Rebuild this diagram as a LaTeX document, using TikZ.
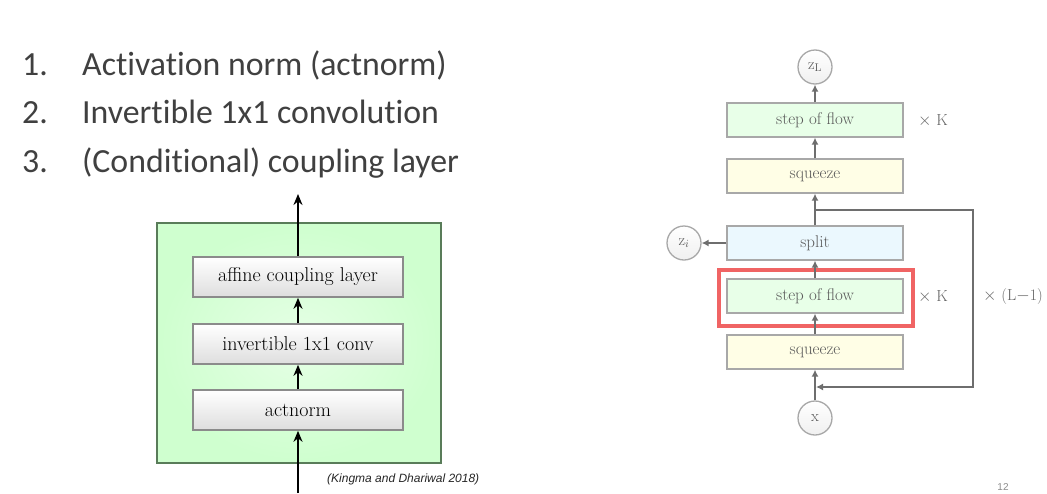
\documentclass[tikz,border=0pt]{standalone}
\usepackage{fontspec}
\newfontfamily\calib[Ligatures=NoCommon]{Carlito}
\newfontfamily\arialf{Liberation Sans}
\usetikzlibrary{arrows.meta}
\definecolor{listgray}{HTML}{404040}
\definecolor{flowgray}{HTML}{6E6E6E}
\definecolor{boxedge}{HTML}{A8A8A8}
\definecolor{redbox}{HTML}{F06464}
\tikzset{
  listtxt/.style={font=\calib\fontsize{33.8}{38}\selectfont, text=listgray, anchor=base west, inner sep=0},
  layerbox/.style={draw=flowgray!80, line width=1.6pt, minimum width=210pt, minimum height=40pt, top color=white, bottom color=black!13, font=\fontsize{20}{24}\selectfont, inner sep=0},
  blackarr/.style={-{Stealth[length=11pt,width=9pt]}, line width=2.4pt, black},
  flowbox/.style={draw=boxedge, line width=1.3pt, minimum width=176pt, minimum height=34pt, font=\fontsize{17}{20}\selectfont, text=black!65, inner sep=0},
  flowcirc/.style={circle, draw=boxedge, line width=1.3pt, minimum size=34pt, inner sep=0, top color=white, bottom color=black!6, font=\fontsize{16}{18}\selectfont, text=black!65},
  grayarr/.style={-{Latex[length=7pt,width=7pt]}, line width=2pt, flowgray},
  multtxt/.style={font=\fontsize{16}{18}\selectfont, text=black!60, anchor=west, inner sep=0}
}
\begin{document}
\begin{tikzpicture}[x=1pt,y=-1pt]
\useasboundingbox[fill=white] (0,0) rectangle (1047,493);
% list
\node[listtxt] (n1) at (22,75) {1.};
\node[listtxt] (t1) at (82,75) {Activation norm (actnorm)};
\node[listtxt] (n2) at (22,123) {2.};
\node[listtxt] (t2) at (82,123) {Invertible 1x1 convolution};
\node[listtxt] (n3) at (22,172) {3.};
\node[listtxt] (t3) at (82,172) {(Conditional) coupling layer};
% left diagram
\node[draw=black!55!green!30!gray, line width=2pt, minimum width=284pt, minimum height=240pt, inner color=green!10, outer color=green!19, inner sep=0] (outer) at (299,343) {};
\node[layerbox] (affine) at (298,277) {affine coupling layer};
\node[layerbox] (inv) at (298,344) {invertible 1x1 conv};
\node[layerbox] (act) at (298,410) {actnorm};
\coordinate (lin) at (298,493);
\coordinate (lout) at (298,194);
\draw[blackarr] (lin) -- (act.south);
\draw[blackarr] (act.north) -- (inv.south);
\draw[blackarr] (inv.north) -- (affine.south);
\draw[blackarr] (affine.north) -- (lout);
\node[font=\arialf\itshape\fontsize{12}{14}\selectfont, anchor=west, inner sep=0, text=black!85] (cite) at (327,479) {(Kingma and Dhariwal 2018)};
% right diagram
\node[flowcirc] (zL) at (815,67) {$\mathrm{z}_{\mathrm{L}}$};
\node[flowbox, fill=green!9] (step1) at (815,120) {step of flow};
\node[flowbox, fill=yellow!10] (sq1) at (815,176) {squeeze};
\node[flowbox, fill=cyan!8] (split) at (815,243) {split};
\node[flowcirc] (zi) at (684,243) {$\mathrm{z}_i$};
\node[draw=redbox, line width=4pt, minimum width=194pt, minimum height=56pt, inner sep=0] (red) at (816,298) {};
\node[flowbox, fill=green!9] (step2) at (815,296) {step of flow};
\node[flowbox, fill=yellow!10] (sq2) at (815,352) {squeeze};
\node[flowcirc] (x) at (815,418) {x};
\node[multtxt] (k1) at (918,121) {$\times$ K};
\node[multtxt] (k2) at (918,297) {$\times$ K};
\node[multtxt] (l1) at (983,297) {$\times$ (L$-$1)};
\coordinate (j1) at (815,210);
\coordinate (c1) at (973,210);
\coordinate (c2) at (973,387);
\coordinate (j2) at (816,387);
\draw[grayarr] (step1.north) -- (zL.south);
\draw[grayarr] (sq1.north) -- (step1.south);
\draw[grayarr] (split.north) -- (sq1.south);
\draw[grayarr] (split.west) -- (zi.east);
\draw[grayarr] (step2.north) -- (split.south);
\draw[grayarr] (sq2.north) -- (step2.south);
\draw[grayarr] (x.north) -- (sq2.south);
\draw[grayarr] (j1) -- (c1) -- (c2) -- (j2);
\node[font=\arialf\fontsize{10}{12}\selectfont, text=black!45, anchor=south, inner sep=0] (pg) at (1003,491) {12};
\end{tikzpicture}
\end{document}
